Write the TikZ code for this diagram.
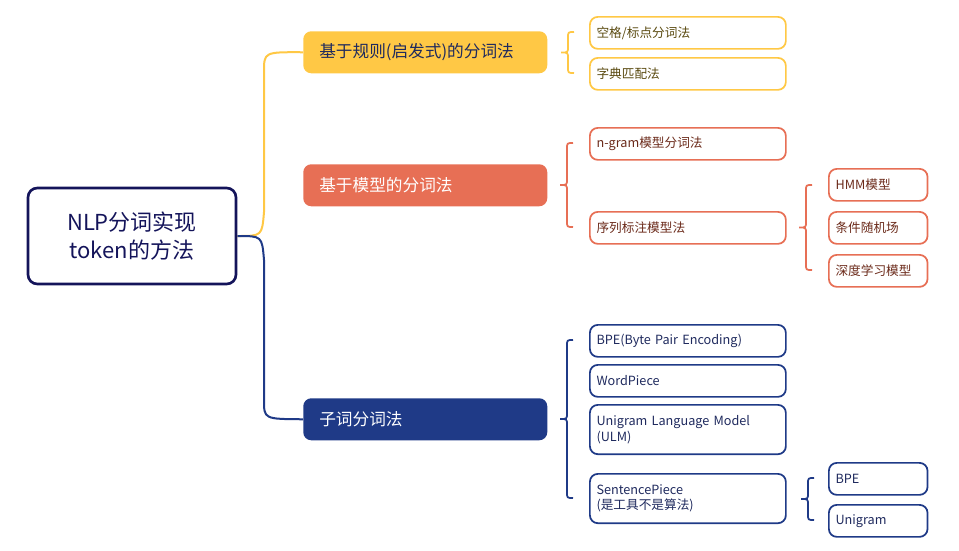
\documentclass[tikz,border=0pt]{standalone}
\usepackage{fontspec}
\setmainfont{Noto Sans CJK SC}
\usetikzlibrary{positioning}
\definecolor{ruleY}{HTML}{FFC845}
\definecolor{modelO}{HTML}{E76F55}
\definecolor{subN}{HTML}{1F3A87}
\definecolor{rootN}{HTML}{14145A}
\definecolor{txtY}{HTML}{5A4A10}
\definecolor{txtO}{HTML}{6B2A1A}
\definecolor{txtN}{HTML}{1F2A5E}
\tikzset{
  leaf/.style={draw, line width=1.3pt, rounded corners=6pt, anchor=north west, inner xsep=5pt,
    minimum width=147pt, text width=137pt, align=left, minimum height=24pt, font=\fontsize{9.5}{11.5}\selectfont},
  small/.style={leaf, minimum width=74pt, text width=64pt},
  cat/.style={rounded corners=6pt, anchor=north west, minimum width=183pt, minimum height=31.5pt,
    inner xsep=12pt, text width=159pt, align=left, font=\fontsize{12.5}{14}\selectfont},
  brace/.style={line width=1.3pt},
}
% curly brace: x of spine, top y, bottom y
\newcommand\leafbrace[4]{%
  \draw[brace,#4] ({#1+6},#2) .. controls (#1,#2) .. (#1,{#2+6}) -- (#1,{(#2+#3)/2-6})
    .. controls (#1,{(#2+#3)/2}) .. ({#1-7},{(#2+#3)/2}) .. controls (#1,{(#2+#3)/2}) .. (#1,{(#2+#3)/2+6})
    -- (#1,{#3-6}) .. controls (#1,#3) .. ({#1+6},#3);}
\begin{document}
\begin{tikzpicture}[x=0.75pt,y=0.75pt,yscale=-1,xscale=1]
\useasboundingbox (0,0) rectangle (959,550);

% root
\node[draw=rootN, line width=2pt, rounded corners=7pt, minimum width=156pt, minimum height=72pt,
  align=center, text=rootN, font=\fontsize{16.5}{21}\selectfont] (root) at (132,236) {NLP分词实现\\token的方法};

% categories
\node[cat, fill=ruleY, text=txtN] (rule) at (303,31) {基于规则(启发式)的分词法};
\node[cat, fill=modelO, text=white] (model) at (303,164) {基于模型的分词法};
\node[cat, fill=subN, text=white] (subw) at (303,398) {子词分词法};

% root connectors
\draw[ruleY, line width=1.5pt] (root.east) .. controls (262,236) .. (264,212) -- (264,72) .. controls (264,52) .. (rule.west);
\draw[subN, line width=1.5pt] (root.east) .. controls (262,236) .. (264,260) -- (264,400) .. controls (264,419) .. (subw.west);

% rule leaves
\node[leaf, draw=ruleY, text=txtY] (space) at (589,16) {空格/标点分词法};
\node[leaf, draw=ruleY, text=txtY] (dict) at (589,57) {字典匹配法};
\leafbrace{568}{32}{73}{ruleY}

% model leaves
\node[leaf, draw=modelO, text=txtO] (ngram) at (589,127) {n-gram模型分词法};
\node[leaf, draw=modelO, text=txtO] (seq) at (589,211) {序列标注模型法};
\leafbrace{567}{143}{227}{modelO}
\node[small, draw=modelO, text=txtO] (hmm) at (828,168) {HMM模型};
\node[small, draw=modelO, text=txtO] (crf) at (828,211) {条件随机场};
\node[small, draw=modelO, text=txtO] (deep) at (828,254) {深度学习模型};
\leafbrace{806}{185}{270}{modelO}

% subword leaves
\node[leaf, draw=subN, text=txtN] (bpe) at (589,324) {BPE(Byte Pair Encoding)};
\node[leaf, draw=subN, text=txtN] (wp) at (589,364) {WordPiece};
\node[leaf, draw=subN, text=txtN, minimum height=37pt] (ulm) at (589,404) {Unigram Language Model\\(ULM)};
\node[leaf, draw=subN, text=txtN, minimum height=37pt] (sp) at (589,473) {SentencePiece\\(是工具不是算法)};
\leafbrace{567}{340}{498}{subN}
\node[small, draw=subN, text=txtN] (spbpe) at (828,462) {BPE};
\node[small, draw=subN, text=txtN] (spuni) at (828,504) {Unigram};
\leafbrace{808}{478}{520}{subN}
\end{tikzpicture}
\end{document}
